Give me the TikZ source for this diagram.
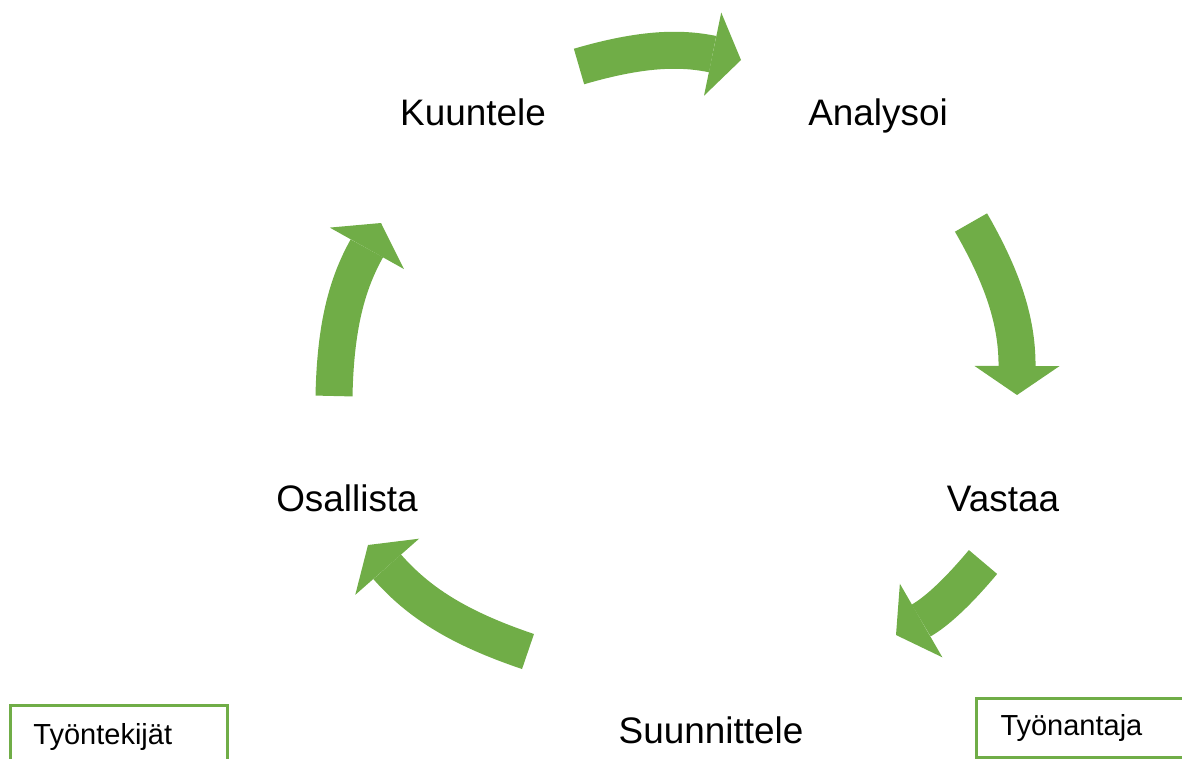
\documentclass[tikz,border=0pt]{standalone}
\usepackage{fontspec}
\setmainfont{Liberation Sans}
\usetikzlibrary{arrows.meta}
\definecolor{cyclegreen}{HTML}{70AD47}

\begin{document}
\begin{tikzpicture}[
    x=0.02cm, y=-0.02cm,
    stage/.style={font=\fontsize{21}{25}\selectfont, anchor=base, inner sep=0pt},
    role/.style={draw=cyclegreen, line width=0.06cm, anchor=north west, align=left,
        font=\fontsize{16.5}{19}\selectfont, inner xsep=0.46cm, inner ysep=0pt},
    cyclearrow/.style={draw=cyclegreen, line width=0.74cm,
        -{Triangle[length=0.58cm, width=1.7cm, line width=0pt]}, bend left=#1},
    cyclearrow/.default=15
]
    \useasboundingbox (0,0) rectangle (1182,758);
    \clip (0,0) rectangle (1182,758);

    % Draw nodes
    \node[stage] (kuuntele) at (473,125) {Kuuntele};
    \node[stage] (analysoi) at (878,125) {Analysoi};
    \node[stage] (vastaa) at (1003,511) {Vastaa};
    \node[stage] (suunnittele) at (711,743) {Suunnittele};
    \node[stage] (osallista) at (347,511) {Osallista};

    \node[role, text width=3.42cm, minimum height=1.24cm] (tyontekijat) at (9,704) {Työntekijät};
    \node[role, text width=4cm, minimum height=1.18cm, inner xsep=0.48cm] (tyonantaja) at (975,697) {Työnantaja};

    % Draw connections
    \coordinate (kuuntele-out) at (579,66.5);
    \coordinate (analysoi-in) at (741,60);
    \coordinate (analysoi-out) at (971,222.5);
    \coordinate (vastaa-in) at (1017,395);
    \coordinate (vastaa-out) at (983,562);
    \coordinate (suunnittele-in) at (896,635);
    \coordinate (suunnittele-out) at (528,651.5);
    \coordinate (osallista-in) at (368,545);
    \coordinate (osallista-out) at (334,396);
    \coordinate (kuuntele-in) at (381,223);

    \draw[cyclearrow=14] (kuuntele-out) to (analysoi-in);
    \draw[cyclearrow=15] (analysoi-out) to (vastaa-in);
    \draw[cyclearrow=10] (vastaa-out) to (suunnittele-in);
    \draw[cyclearrow=15] (suunnittele-out) to (osallista-in);
    \draw[cyclearrow=14] (osallista-out) to (kuuntele-in);

\end{tikzpicture}
\end{document}
